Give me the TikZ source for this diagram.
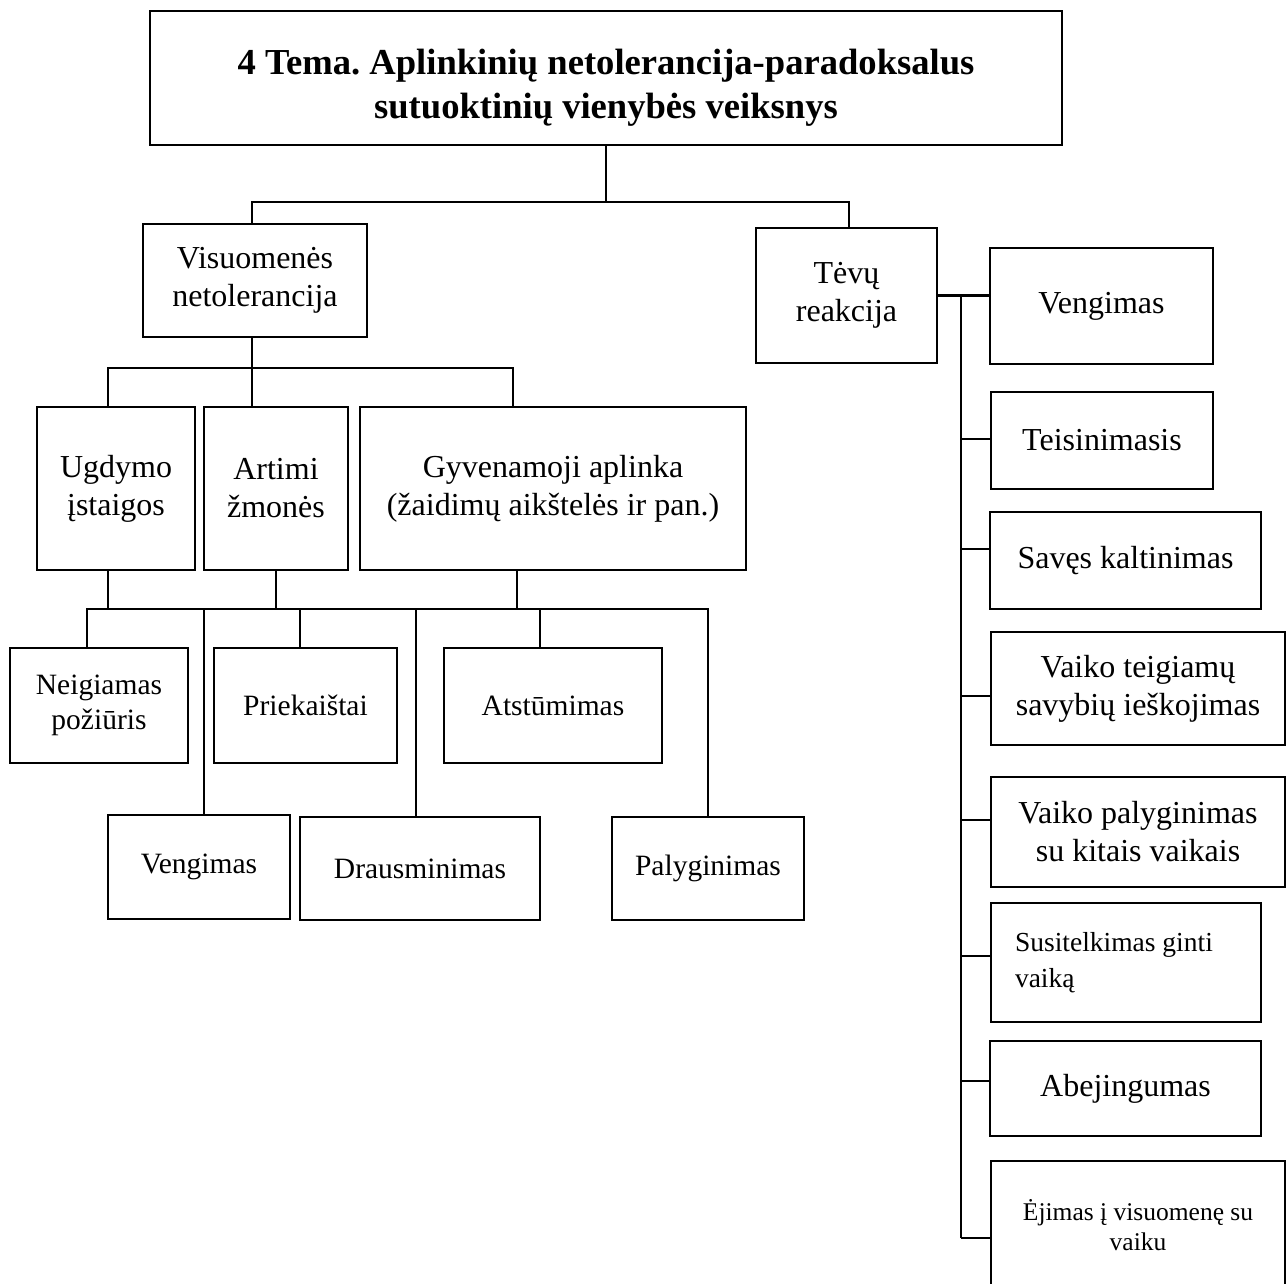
\documentclass[tikz,border=0pt]{standalone}
\usepackage{fontspec}
\setmainfont{Liberation Serif}
\frenchspacing
\begin{document}
\begin{tikzpicture}[x=1pt,y=-1pt,
  box/.style={draw, line width=2.6pt, inner sep=0pt, outer sep=0pt, align=center},
  link/.style={line width=2.3pt},
  fbody/.style={font=\fontsize{32}{38}\selectfont},
  fsmall/.style={font=\fontsize{29.5}{35}\selectfont},
  ftiny/.style={font=\fontsize{25.5}{30}\selectfont},
  ftitle/.style={font=\bfseries\fontsize{36.6}{44}\selectfont}]
\fill[white] (0,0) rectangle (1287,1284);
\useasboundingbox (0,0) rectangle (1287,1284);

% top level
\node[box, minimum width=912pt, minimum height=134pt] (title) at (606,78) {};
\node[ftitle, align=center] (titletext) at (606,88) {4 Tema. Aplinkinių netolerancija-paradoksalus\\sutuoktinių vienybės veiksnys};

% second level
\node[box, fbody, minimum width=224pt, minimum height=113pt] (vis) at (255,280.5) {Visuomenės\\netolerancija};
\node[box, fbody, minimum width=181pt, minimum height=135pt] (tev) at (846.5,295.5) {Tėvų\\reakcija};

% society branch
\node[box, fbody, minimum width=158pt, minimum height=163pt] (ugd) at (116,488.5) {Ugdymo\\įstaigos};
\node[box, fbody, minimum width=144pt, minimum height=163pt] (art) at (276,488.5) {Artimi\\žmonės};
\node[box, fbody, minimum width=386pt, minimum height=163pt] (gyv) at (553,488.5) {Gyvenamoji aplinka\\(žaidimų aikštelės ir pan.)};

\node[box, fsmall, minimum width=178pt, minimum height=115pt] (neig) at (99,705.5) {Neigiamas\\požiūris};
\node[box, fsmall, minimum width=183pt, minimum height=115pt] (priek) at (305.5,705.5) {Priekaištai};
\node[box, fsmall, minimum width=218pt, minimum height=115pt] (atst) at (553,705.5) {Atstūmimas};
\node[box, fsmall, minimum width=182pt, minimum height=104pt] (veng1) at (199,867) {Vengimas};
\node[box, fsmall, minimum width=240pt, minimum height=103pt] (draus) at (420,868.5) {Drausminimas};
\node[box, fsmall, minimum width=192pt, minimum height=103pt] (palyg) at (708,868.5) {Palyginimas};

% parents branch
\node[box, fbody, minimum width=223pt, minimum height=116pt] (veng2) at (1101.5,306) {Vengimas};
\node[box, fbody, minimum width=222pt, minimum height=97pt] (teis) at (1102,440.5) {Teisinimasis};
\node[box, fbody, minimum width=271pt, minimum height=97pt] (saves) at (1125.5,560.5) {Savęs kaltinimas};
\node[box, fbody, minimum width=294pt, minimum height=113pt] (vtei) at (1138,688.5) {Vaiko teigiamų\\savybių ieškojimas};
\node[box, fbody, minimum width=294pt, minimum height=110pt] (vpal) at (1138,832) {Vaiko palyginimas\\su kitais vaikais};
\node[box, font=\fontsize{27.5}{36}\selectfont, align=flush left, text width=222pt, minimum width=270pt, minimum height=119pt] (susit) at (1126,962.5) {Susitelkimas ginti\\vaiką};
\node[box, fbody, minimum width=271pt, minimum height=95pt] (abej) at (1125.5,1088.5) {Abejingumas};
\node[box, ftiny, minimum width=294pt, minimum height=128pt] (ejim) at (1138,1225) {Ėjimas į visuomenę su\\vaiku};

% connectors: top level
\coordinate (j0) at (606,202);
\draw[link] (title.south) -- (j0);
\draw[link] (vis.north -| 252,0) |- (j0) -| (tev.north -| 849,0);

% connectors: society branch
\coordinate (j1) at (252,368);
\draw[link] (vis.south -| 252,0) -- (art.north -| 252,0);
\draw[link] (ugd.north -| 108,0) |- (j1) -| (gyv.north -| 513,0);

\draw[link] (ugd.south -| 108,0) -- (108,609);
\draw[link] (art.south) -- (art.south |- 0,609);
\draw[link] (gyv.south -| 517,0) -- (517,609);
\draw[link] (neig.north -| 87,0) -- (87,609) -- (708,609) -- (palyg.north -| 708,0);
\draw[link] (204,609) -- (veng1.north -| 204,0);
\draw[link] (300,609) -- (priek.north -| 300,0);
\draw[link] (416,609) -- (draus.north -| 416,0);
\draw[link] (540,609) -- (atst.north -| 540,0);

% connectors: parents branch
\coordinate (sp) at (961,296);
\draw[link] (tev.east) -- (tev.east -| veng2.west);
\draw[link] (sp) -- (961,1238);
\draw[link] (961,439) -- (teis.west |- 0,439);
\draw[link] (961,549) -- (saves.west |- 0,549);
\draw[link] (961,696) -- (vtei.west |- 0,696);
\draw[link] (961,820) -- (vpal.west |- 0,820);
\draw[link] (961,956) -- (susit.west |- 0,956);
\draw[link] (961,1081) -- (abej.west |- 0,1081);
\draw[link] (961,1238) -- (ejim.west |- 0,1238);
\end{tikzpicture}
\end{document}
